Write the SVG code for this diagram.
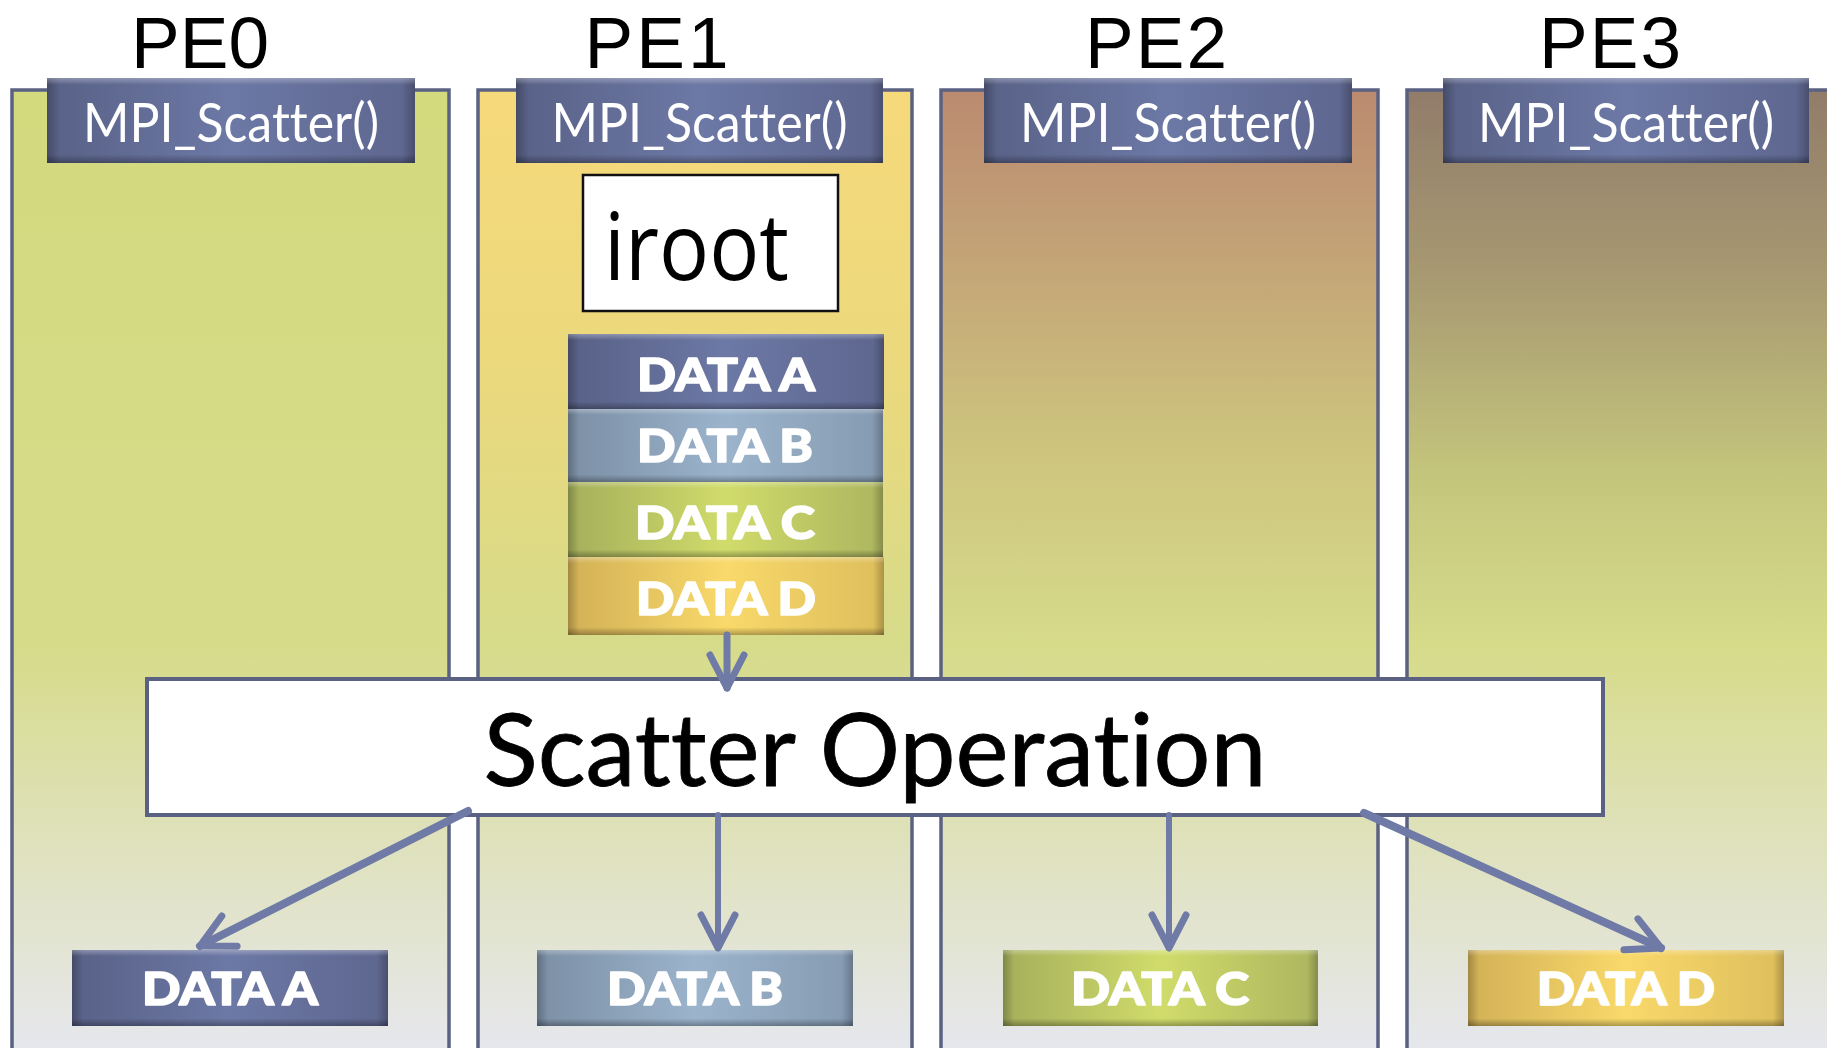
<svg xmlns="http://www.w3.org/2000/svg" width="1827" height="1048" viewBox="0 0 1827 1048">
<defs>
<style>
text{font-variant-ligatures:none;font-feature-settings:"liga" 0,"clig" 0,"dlig" 0}
.col{stroke:#5b6183;stroke-width:3.5}
.pe{font-family:"Liberation Sans",Arial,sans-serif;font-size:73px;fill:#000;text-anchor:middle}
.mpi{font-family:Lato,"Open Sans",sans-serif;font-size:54px;fill:#fff;text-anchor:middle}
.data{font-family:Lato,"Open Sans",sans-serif;font-weight:900;font-size:46px;fill:#fff;stroke:#fff;stroke-width:1.6;stroke-linejoin:round;text-anchor:middle}
.scat{font-family:Lato,"Open Sans",sans-serif;font-size:101px;fill:#000;stroke:#000;stroke-width:0.8;text-anchor:middle}
.iroot{font-family:"Open Sans","Noto Sans",sans-serif;font-size:94px;fill:#000}
.conn{stroke:#6f7aa6;fill:none;stroke-linecap:round}
.bev{stroke:none}
</style>
<linearGradient id="g0" gradientUnits="userSpaceOnUse" x1="0" y1="90" x2="0" y2="1048">
<stop offset="0" stop-color="#d3d97d"/><stop offset="0.58" stop-color="#d6db8a"/><stop offset="0.76" stop-color="#dee1b6"/><stop offset="1" stop-color="#e6e7ec"/>
</linearGradient>
<linearGradient id="g1" gradientUnits="userSpaceOnUse" x1="0" y1="90" x2="0" y2="1048">
<stop offset="0" stop-color="#f6d97a"/><stop offset="0.3" stop-color="#ebd97d"/><stop offset="0.58" stop-color="#d6db8a"/><stop offset="0.76" stop-color="#dee1b6"/><stop offset="1" stop-color="#e6e7ec"/>
</linearGradient>
<linearGradient id="g2" gradientUnits="userSpaceOnUse" x1="0" y1="90" x2="0" y2="1048">
<stop offset="0" stop-color="#bb8a6f"/><stop offset="0.15" stop-color="#c2a076"/><stop offset="0.36" stop-color="#cdc27d"/><stop offset="0.58" stop-color="#d6db8a"/><stop offset="0.76" stop-color="#dee1b6"/><stop offset="1" stop-color="#e6e7ec"/>
</linearGradient>
<linearGradient id="g3" gradientUnits="userSpaceOnUse" x1="0" y1="90" x2="0" y2="1048">
<stop offset="0" stop-color="#917c6a"/><stop offset="0.2" stop-color="#a89a72"/><stop offset="0.4" stop-color="#c4c57c"/><stop offset="0.58" stop-color="#d6db8a"/><stop offset="0.76" stop-color="#dee1b6"/><stop offset="1" stop-color="#e6e7ec"/>
</linearGradient>
<linearGradient id="fA" x1="0" y1="0" x2="1" y2="0">
<stop offset="0" stop-color="#5f6890"/><stop offset="0.5" stop-color="#6c78a5"/><stop offset="1" stop-color="#646d98"/>
</linearGradient>
<linearGradient id="fB" x1="0" y1="0" x2="1" y2="0">
<stop offset="0" stop-color="#8499b0"/><stop offset="0.5" stop-color="#9bb4cc"/><stop offset="1" stop-color="#8ea5bd"/>
</linearGradient>
<linearGradient id="fC" x1="0" y1="0" x2="1" y2="0">
<stop offset="0" stop-color="#b0bb62"/><stop offset="0.5" stop-color="#d0dc6a"/><stop offset="1" stop-color="#b8c266"/>
</linearGradient>
<linearGradient id="fD" x1="0" y1="0" x2="1" y2="0">
<stop offset="0" stop-color="#e0bd5c"/><stop offset="0.5" stop-color="#f9d96a"/><stop offset="1" stop-color="#eccb62"/>
</linearGradient>
<linearGradient id="bh" x1="0" y1="0" x2="1" y2="0">
<stop offset="0" stop-color="#000" stop-opacity="0.28"/><stop offset="0.035" stop-color="#000" stop-opacity="0.06"/><stop offset="0.5" stop-color="#000" stop-opacity="0"/><stop offset="0.965" stop-color="#000" stop-opacity="0.06"/><stop offset="1" stop-color="#000" stop-opacity="0.28"/>
</linearGradient>
<linearGradient id="bv" x1="0" y1="0" x2="0" y2="1">
<stop offset="0" stop-color="#fff" stop-opacity="0.3"/><stop offset="0.08" stop-color="#fff" stop-opacity="0"/><stop offset="0.9" stop-color="#000" stop-opacity="0"/><stop offset="1" stop-color="#000" stop-opacity="0.3"/>
</linearGradient>
<marker id="arr" markerUnits="userSpaceOnUse" viewBox="-40 -22 44 44" markerWidth="44" markerHeight="44" refX="0" refY="0" orient="auto" overflow="visible">
<path d="M-33,-17 L0,0 L-33,17" fill="none" stroke="#6f7aa6" stroke-width="7" stroke-linecap="round" stroke-linejoin="round"/>
</marker>
</defs>
<rect width="1827" height="1048" fill="#fff"/>
<g id="columns">
<rect class="col" x="12" y="90" width="437" height="1000" fill="url(#g0)"/>
<rect class="col" x="478" y="90" width="434" height="1000" fill="url(#g1)"/>
<rect class="col" x="941" y="90" width="437" height="1000" fill="url(#g2)"/>
<rect class="col" x="1407" y="90" width="437" height="1000" fill="url(#g3)"/>
</g>
<g id="pe-labels">
<text class="pe" x="200" y="68">PE0</text>
<text class="pe" x="658" y="68" letter-spacing="3">PE1</text>
<text class="pe" x="1157" y="68" letter-spacing="2">PE2</text>
<text class="pe" x="1611" y="68" letter-spacing="2">PE3</text>
</g>
<g id="mpi-pe0"><rect x="47" y="78" width="368" height="85" fill="url(#fA)"/><rect class="bev" x="47" y="78" width="368" height="85" fill="url(#bh)"/><rect class="bev" x="47" y="78" width="368" height="85" fill="url(#bv)"/><text class="mpi" x="231" y="142" textLength="296" lengthAdjust="spacingAndGlyphs">MPI_Scatter()</text></g>
<g id="mpi-pe1"><rect x="516" y="78" width="367" height="85" fill="url(#fA)"/><rect class="bev" x="516" y="78" width="367" height="85" fill="url(#bh)"/><rect class="bev" x="516" y="78" width="367" height="85" fill="url(#bv)"/><text class="mpi" x="699.5" y="142" textLength="296" lengthAdjust="spacingAndGlyphs">MPI_Scatter()</text></g>
<g id="mpi-pe2"><rect x="984" y="78" width="368" height="85" fill="url(#fA)"/><rect class="bev" x="984" y="78" width="368" height="85" fill="url(#bh)"/><rect class="bev" x="984" y="78" width="368" height="85" fill="url(#bv)"/><text class="mpi" x="1168" y="142" textLength="296" lengthAdjust="spacingAndGlyphs">MPI_Scatter()</text></g>
<g id="mpi-pe3"><rect x="1443" y="78" width="366" height="85" fill="url(#fA)"/><rect class="bev" x="1443" y="78" width="366" height="85" fill="url(#bh)"/><rect class="bev" x="1443" y="78" width="366" height="85" fill="url(#bv)"/><text class="mpi" x="1626" y="142" textLength="296" lengthAdjust="spacingAndGlyphs">MPI_Scatter()</text></g>
<g id="iroot"><rect x="583" y="175" width="255" height="136" fill="#fff" stroke="#111" stroke-width="2.5"/><text class="iroot" x="604" y="280" textLength="185" lengthAdjust="spacingAndGlyphs">iroot</text></g>
<g id="stack-a"><rect x="568" y="334" width="316" height="75" fill="url(#fA)"/><rect class="bev" x="568" y="334" width="316" height="75" fill="url(#bh)"/><rect class="bev" x="568" y="334" width="316" height="75" fill="url(#bv)"/><text class="data" x="726" y="391" textLength="178" lengthAdjust="spacingAndGlyphs">DATA A</text></g>
<g id="stack-b"><rect x="568" y="409" width="315" height="73" fill="url(#fB)"/><rect class="bev" x="568" y="409" width="315" height="73" fill="url(#bh)"/><rect class="bev" x="568" y="409" width="315" height="73" fill="url(#bv)"/><text class="data" x="725" y="462" textLength="176" lengthAdjust="spacingAndGlyphs">DATA B</text></g>
<g id="stack-c"><rect x="568" y="482" width="315" height="75" fill="url(#fC)"/><rect class="bev" x="568" y="482" width="315" height="75" fill="url(#bh)"/><rect class="bev" x="568" y="482" width="315" height="75" fill="url(#bv)"/><text class="data" x="725" y="539" textLength="180" lengthAdjust="spacingAndGlyphs">DATA C</text></g>
<g id="stack-d"><rect x="568" y="557" width="316" height="78" fill="url(#fD)"/><rect class="bev" x="568" y="557" width="316" height="78" fill="url(#bh)"/><rect class="bev" x="568" y="557" width="316" height="78" fill="url(#bv)"/><text class="data" x="726" y="615" textLength="180" lengthAdjust="spacingAndGlyphs">DATA D</text></g>
<g id="scatter-op"><rect x="147" y="679" width="1456" height="136" fill="#fff" stroke="#5b6183" stroke-width="4"/><text class="scat" x="875" y="786" textLength="783" lengthAdjust="spacingAndGlyphs">Scatter Operation</text></g>
<g id="out-a"><rect x="72" y="950" width="316" height="76" fill="url(#fA)"/><rect class="bev" x="72" y="950" width="316" height="76" fill="url(#bh)"/><rect class="bev" x="72" y="950" width="316" height="76" fill="url(#bv)"/><text class="data" x="230" y="1005" textLength="176" lengthAdjust="spacingAndGlyphs">DATA A</text></g>
<g id="out-b"><rect x="537" y="950" width="316" height="76" fill="url(#fB)"/><rect class="bev" x="537" y="950" width="316" height="76" fill="url(#bh)"/><rect class="bev" x="537" y="950" width="316" height="76" fill="url(#bv)"/><text class="data" x="695" y="1005" textLength="176" lengthAdjust="spacingAndGlyphs">DATA B</text></g>
<g id="out-c"><rect x="1003" y="950" width="315" height="76" fill="url(#fC)"/><rect class="bev" x="1003" y="950" width="315" height="76" fill="url(#bh)"/><rect class="bev" x="1003" y="950" width="315" height="76" fill="url(#bv)"/><text class="data" x="1160" y="1005" textLength="178" lengthAdjust="spacingAndGlyphs">DATA C</text></g>
<g id="out-d"><rect x="1468" y="950" width="316" height="76" fill="url(#fD)"/><rect class="bev" x="1468" y="950" width="316" height="76" fill="url(#bh)"/><rect class="bev" x="1468" y="950" width="316" height="76" fill="url(#bv)"/><text class="data" x="1626" y="1005" textLength="178" lengthAdjust="spacingAndGlyphs">DATA D</text></g>
<g id="connectors">
<line class="conn" x1="727" y1="635" x2="727" y2="688" stroke-width="7" marker-end="url(#arr)"/>
<line class="conn" x1="468" y1="811" x2="200" y2="946" stroke-width="8" marker-end="url(#arr)"/>
<line class="conn" x1="718" y1="815" x2="718" y2="948" stroke-width="6" marker-end="url(#arr)"/>
<line class="conn" x1="1169" y1="815" x2="1169" y2="948" stroke-width="6" marker-end="url(#arr)"/>
<line class="conn" x1="1364" y1="813" x2="1661" y2="948" stroke-width="8" marker-end="url(#arr)"/>
</g>
</svg>
